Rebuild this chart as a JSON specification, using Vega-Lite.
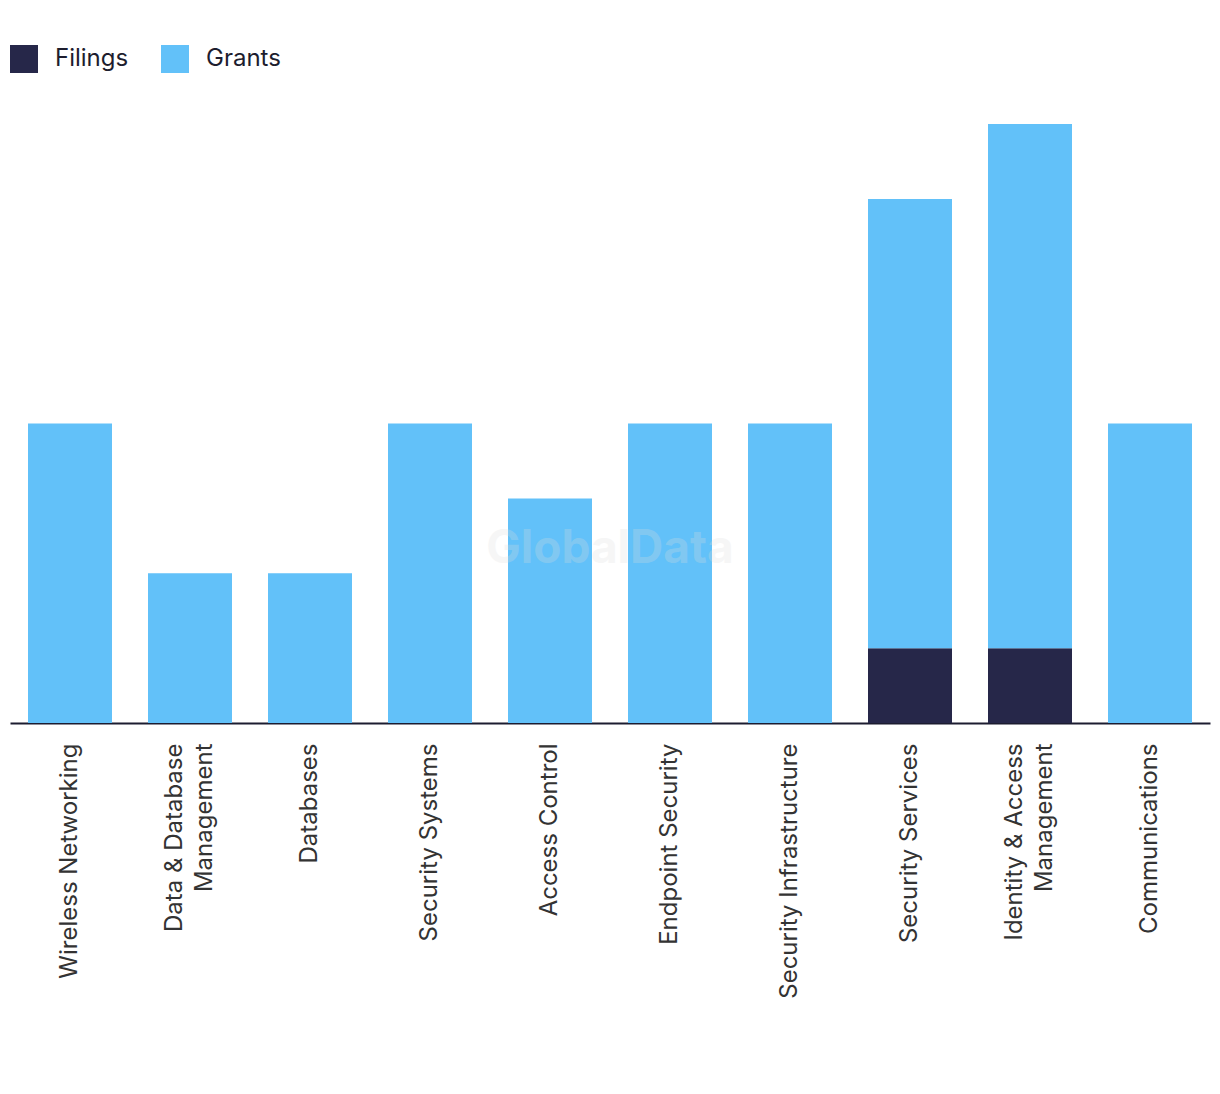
{
  "$schema": "https://vega.github.io/schema/vega-lite/v6.json",
  "autosize": "none",
  "width": 1200,
  "height": 599,
  "padding": {"left": 10, "top": 124, "right": 10, "bottom": 371},
  "background": "white",
  "config": {"view": {"stroke": null}, "font": "Inter"},
  "data": {
    "values": [
      {"category": "Wireless Networking", "type": "Filings", "count": 0},
      {"category": "Wireless Networking", "type": "Grants", "count": 4},
      {"category": "Data & Database Management", "type": "Filings", "count": 0},
      {"category": "Data & Database Management", "type": "Grants", "count": 2},
      {"category": "Databases", "type": "Filings", "count": 0},
      {"category": "Databases", "type": "Grants", "count": 2},
      {"category": "Security Systems", "type": "Filings", "count": 0},
      {"category": "Security Systems", "type": "Grants", "count": 4},
      {"category": "Access Control", "type": "Filings", "count": 0},
      {"category": "Access Control", "type": "Grants", "count": 3},
      {"category": "Endpoint Security", "type": "Filings", "count": 0},
      {"category": "Endpoint Security", "type": "Grants", "count": 4},
      {"category": "Security Infrastructure", "type": "Filings", "count": 0},
      {"category": "Security Infrastructure", "type": "Grants", "count": 4},
      {"category": "Security Services", "type": "Filings", "count": 1},
      {"category": "Security Services", "type": "Grants", "count": 6},
      {"category": "Identity & Access Management", "type": "Filings", "count": 1},
      {"category": "Identity & Access Management", "type": "Grants", "count": 7},
      {"category": "Communications", "type": "Filings", "count": 0},
      {"category": "Communications", "type": "Grants", "count": 4}
    ]
  },
  "layer": [
    {
      "mark": {"type": "bar"},
      "encoding": {
        "x": {
          "field": "category",
          "type": "nominal",
          "sort": null,
          "scale": {"paddingInner": 0.3, "paddingOuter": 0.15},
          "axis": {
            "title": null,
            "ticks": false,
            "labelAngle": -90,
            "labelAlign": "right",
            "labelBaseline": "middle",
            "labelFontSize": 24,
            "labelColor": "#333333",
            "labelPadding": 20,
            "labelLineHeight": 30,
            "labelLimit": 400,
            "labelOffset": {"condition": {"test": "indexof(datum.label, 'Management') >= 0", "value": -15}, "value": 0},
            "domainColor": "#1c1c30",
            "domainWidth": 2,
            "labelExpr": "datum.label == 'Data & Database Management' ? ['Data & Database', 'Management'] : datum.label == 'Identity & Access Management' ? ['Identity & Access', 'Management'] : datum.label"
          }
        },
        "y": {
          "field": "count",
          "type": "quantitative",
          "stack": "zero",
          "scale": {"domain": [0, 8], "nice": false},
          "axis": null
        },
        "color": {
          "field": "type",
          "type": "nominal",
          "scale": {"domain": ["Filings", "Grants"], "range": ["#262749", "#62C1F9"]},
          "legend": {
            "title": null,
            "orient": "none",
            "direction": "horizontal",
            "legendX": 0,
            "legendY": -79,
            "symbolType": "square",
            "symbolSize": 784,
            "symbolStrokeWidth": 0,
            "symbolOpacity": 1,
            "labelFontSize": 24,
            "labelColor": "#1d1d2e",
            "labelOffset": 17,
            "columnPadding": 32
          }
        },
        "order": {"field": "type", "sort": "ascending"}
      }
    },
    {
      "data": {"values": [{"label": "GlobalData", "pos": 2.33}]},
      "mark": {"type": "text", "fontSize": 46, "fontWeight": "bold", "color": "#dddddd", "opacity": 0.25, "baseline": "middle", "align": "center"},
      "encoding": {
        "y": {"field": "pos", "type": "quantitative"},
        "text": {"field": "label"}
      }
    }
  ]
}
